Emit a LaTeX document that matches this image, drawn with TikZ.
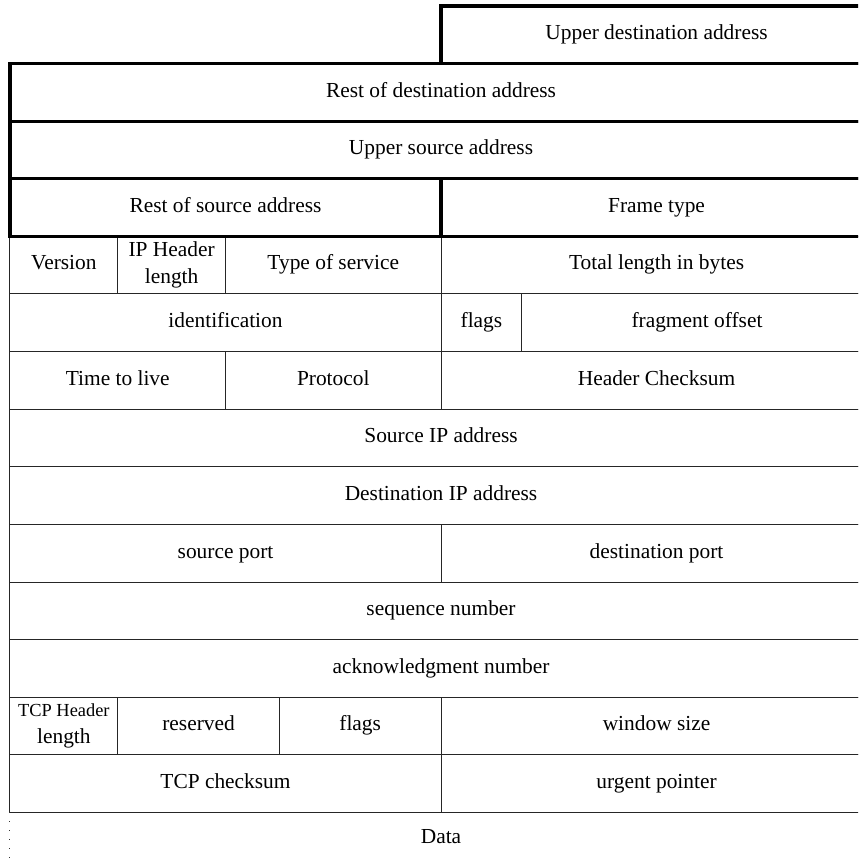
\documentclass[tikz,border=0pt]{standalone}
\usepackage{fontspec}
\setmainfont{Liberation Serif}
\usetikzlibrary{positioning}

\begin{document}
\begin{tikzpicture}[
    x=13.47pt, y=-28.8pt,
    font=\fontsize{10.7}{13.5}\selectfont,
    field/.style={rectangle, draw=black!85, line width=0.5pt,
      anchor=north west, inner sep=0pt, outer sep=0pt,
      minimum width=#1*13.47pt, minimum height=28.8pt, align=center,
      text height=0.7em, text depth=0.22em},
    twoline/.style={text height={}, text depth={}},
    hdr/.style={field=#1, draw=black, line width=1.6pt},
    datarow/.style={field=#1, draw=none, minimum height=26pt},
    gap/.style={draw=black!80, line width=0.5pt, loosely dotted}
  ]
    \clip (-0.371,-0.104) rectangle (31.48,14.948);

    \node[field=4] (ver) at (0,4) {Version};
    \node[field=4, twoline] (ihl) at (4,4) {IP Header\\length};
    \node[field=8] (tos) at (8,4) {Type of service};
    \node[field=16] (tlen) at (16,4) {Total length in bytes};

    \node[field=16] (ident) at (0,5) {identification};
    \node[field=3] (ipflags) at (16,5) {flags};
    \node[field=13] (frag) at (19,5) {fragment offset};

    \node[field=8] (ttl) at (0,6) {Time to live};
    \node[field=8] (proto) at (8,6) {Protocol};
    \node[field=16] (hcsum) at (16,6) {Header Checksum};

    \node[field=32] (srcip) at (0,7) {Source IP address};
    \node[field=32] (dstip) at (0,8) {Destination IP address};

    \node[field=16] (sport) at (0,9) {source port};
    \node[field=16] (dport) at (16,9) {destination port};

    \node[field=32] (seq) at (0,10) {sequence number};
    \node[field=32] (ack) at (0,11) {acknowledgment number};

    \node[field=4, twoline] (thl) at (0,12) {{\fontsize{9.2}{11}\selectfont TCP Header}\\length};
    \node[field=6] (resv) at (4,12) {reserved};
    \node[field=6] (tflags) at (10,12) {flags};
    \node[field=16] (win) at (16,12) {window size};

    \node[field=16] (tcsum) at (0,13) {TCP checksum};
    \node[field=16] (urg) at (16,13) {urgent pointer};

    \node[datarow=32] (data) at (0,14) {Data};
    \draw[gap] (data.north west) -- (data.south west);

    \node[hdr=16] (udst) at (16,0) {Upper destination address};
    \node[hdr=32] (rdst) at (0,1) {Rest of destination address};
    \node[hdr=32] (usrc) at (0,2) {Upper source address};
    \node[hdr=16] (rsrc) at (0,3) {Rest of source address};
    \node[hdr=16] (ftype) at (16,3) {Frame type};
  \end{tikzpicture}
\end{document}
